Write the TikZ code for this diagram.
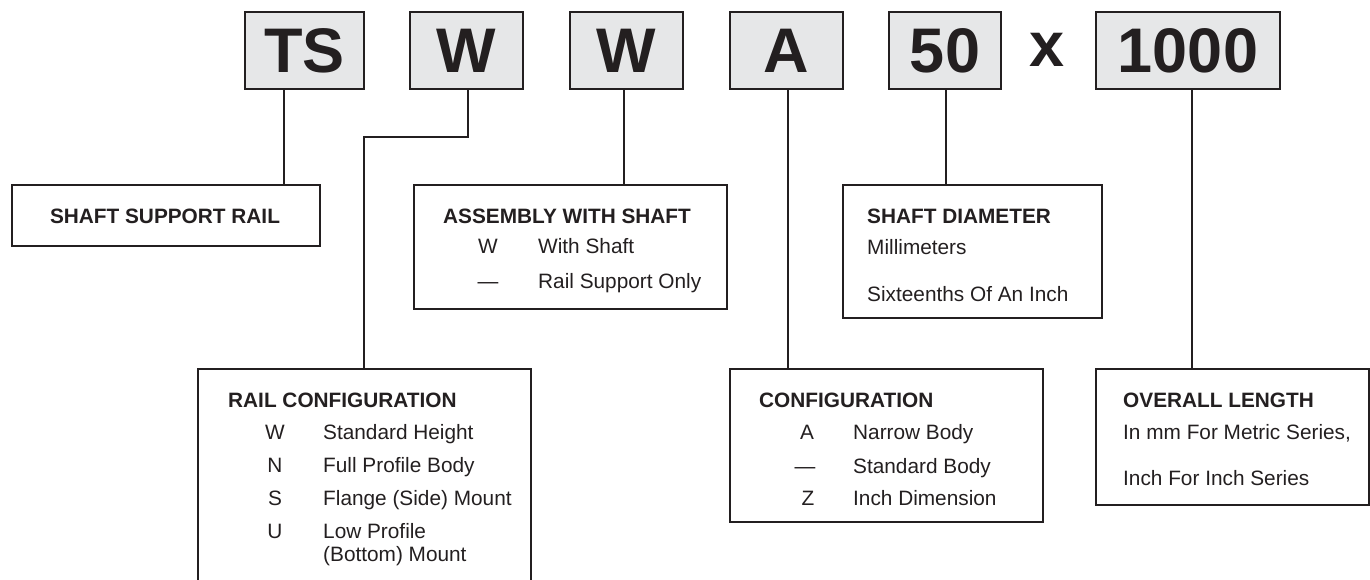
\documentclass[tikz,border=0pt]{standalone}
\usepackage{fontspec}
\setmainfont{Liberation Sans}
\definecolor{ink}{HTML}{231F20}
\definecolor{boxfill}{HTML}{E6E7E8}
\begin{document}
\begin{tikzpicture}[x=1pt,y=-1pt,
 codebox/.style={draw=ink, line width=2pt, fill=boxfill, inner sep=0pt, minimum height=77pt,
   font=\fontsize{63}{63}\selectfont\bfseries, text=ink},
 descbox/.style={draw=ink, line width=2pt, inner sep=0pt, anchor=north west},
 conn/.style={draw=ink, line width=1.8pt},
 ttl/.style={anchor=base west, inner sep=0pt, font=\fontsize{20.8}{25}\selectfont\bfseries, text=ink},
 txt/.style={anchor=base west, inner sep=0pt, font=\fontsize{20.8}{25}\selectfont, text=ink},
 cd/.style={anchor=base, inner sep=0pt, font=\fontsize{20.8}{25}\selectfont, text=ink}]
\useasboundingbox (0,0) rectangle (1370,580);

% top code boxes
\node[codebox, minimum width=119pt] (ts) at (304.5,50.5) {TS};
\node[codebox, minimum width=113pt] (w1) at (466.5,50.5) {W};
\node[codebox, minimum width=113pt] (w2) at (626.5,50.5) {W};
\node[codebox, minimum width=113pt] (a) at (786,50.5) {A};
\node[codebox, minimum width=112pt] (d50) at (945,50.5) {50};
\node[anchor=base, inner sep=0pt, font=\fontsize{63}{63}\selectfont\bfseries, text=ink] (x) at (1047,67) {x};
\node[codebox, minimum width=184pt] (len) at (1188,50.5) {1000};

% description boxes
\node[descbox, minimum width=308pt, minimum height=61pt] (ssr) at (11,184) {};
\node[descbox, minimum width=313pt, minimum height=124pt] (asm) at (413,184) {};
\node[descbox, minimum width=259pt, minimum height=133pt] (sd) at (842,184) {};
\node[descbox, minimum width=333pt, minimum height=230pt] (rc) at (197,368) {};
\node[descbox, minimum width=313pt, minimum height=153pt] (conf) at (729,368) {};
\node[descbox, minimum width=273pt, minimum height=136pt] (ol) at (1095,368) {};

% connectors
\draw[conn] ([xshift=40pt]ts.south west) -- ([xshift=40pt]ts.south west |- ssr.north);
\coordinate (bend1) at ([yshift=-47pt]w1.south);
\coordinate (bend2) at (rc.north -| 364,0);
\draw[conn] ([xshift=1.5pt]w1.south) -- ([xshift=1.5pt]bend1) -- (bend1 -| bend2) -- (bend2);
\draw[conn] ([xshift=-2.5pt]w2.south) -- ([xshift=-2.5pt]w2.south |- asm.north);
\draw[conn] ([xshift=2pt]a.south) -- ([xshift=2pt]a.south |- conf.north);
\draw[conn] ([xshift=1pt]d50.south) -- ([xshift=1pt]d50.south |- sd.north);
\draw[conn] ([xshift=4pt]len.south) -- ([xshift=4pt]len.south |- ol.north);

% texts
\node[ttl, anchor=base] (t-ssr) at (165,223) {SHAFT SUPPORT RAIL};

\node[ttl] (t-asm) at (443,223) {ASSEMBLY WITH SHAFT};
\node[cd] (c-asm1) at (488,253) {W};
\node[txt] (d-asm1) at (538,253) {With Shaft};
\node[cd] (c-asm2) at (488,288) {—};
\node[txt] (d-asm2) at (538,288) {Rail Support Only};

\node[ttl] (t-sd) at (867,223) {SHAFT DIAMETER};
\node[txt] (d-sd1) at (867,254) {Millimeters};
\node[txt] (d-sd2) at (867,301) {Sixteenths Of An Inch};

\node[ttl] (t-rc) at (228,407) {RAIL CONFIGURATION};
\node[cd] (c-rc1) at (275,439) {W};
\node[txt] (d-rc1) at (323,439) {Standard Height};
\node[cd] (c-rc2) at (275,472) {N};
\node[txt] (d-rc2) at (323,472) {Full Profile Body};
\node[cd] (c-rc3) at (275,505) {S};
\node[txt] (d-rc3) at (323,505) {Flange (Side) Mount};
\node[cd] (c-rc4) at (275,538) {U};
\node[txt] (d-rc4) at (323,538) {Low Profile};
\node[txt] (d-rc5) at (323,561) {(Bottom) Mount};

\node[ttl] (t-conf) at (759,407) {CONFIGURATION};
\node[cd] (c-conf1) at (807,439) {A};
\node[txt] (d-conf1) at (853,439) {Narrow Body};
\node[cd] (c-conf2) at (805,473) {—};
\node[txt] (d-conf2) at (853,473) {Standard Body};
\node[cd] (c-conf3) at (808,505) {Z};
\node[txt] (d-conf3) at (853,505) {Inch Dimension};

\node[ttl] (t-ol) at (1123,407) {OVERALL LENGTH};
\node[txt] (d-ol1) at (1123,439) {In mm For Metric Series,};
\node[txt] (d-ol2) at (1123,485) {Inch For Inch Series};
\end{tikzpicture}
\end{document}
